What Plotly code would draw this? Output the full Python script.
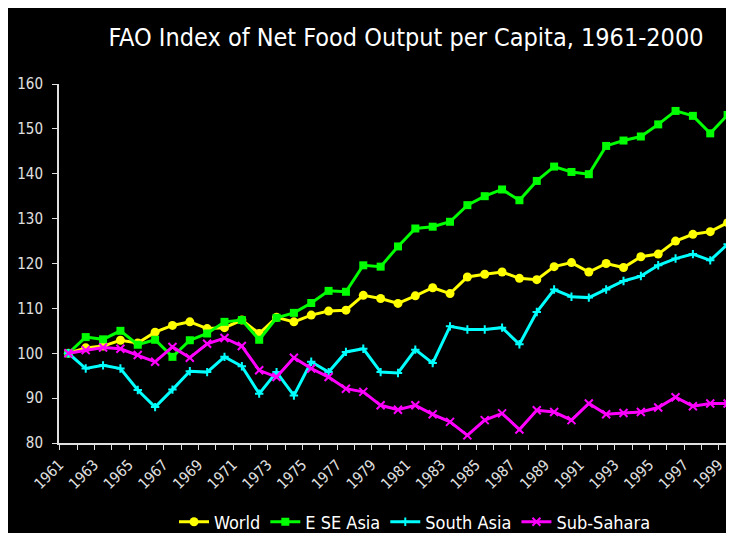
import plotly.graph_objects as go

years = list(range(1961, 2001))

world = [100.0, 101.2, 101.6, 102.9, 102.3, 104.7, 106.2, 107.0, 105.5, 105.7,
         107.4, 104.4, 108.0, 107.0, 108.5, 109.4, 109.6, 112.9, 112.2, 111.1,
         112.8, 114.6, 113.3, 117.0, 117.6, 118.1, 116.7, 116.4, 119.3, 120.2,
         118.1, 120.0, 119.1, 121.5, 122.1, 125.0, 126.5, 127.1, 129.1, 129.0]

e_se_asia = [100.0, 103.6, 103.1, 105.0, 101.9, 103.0, 99.2, 102.9, 104.4, 107.0,
             107.4, 103.0, 107.9, 109.0, 111.2, 113.9, 113.7, 119.6, 119.3, 123.8,
             127.8, 128.2, 129.3, 133.0, 135.0, 136.5, 134.1, 138.4, 141.6, 140.4,
             139.9, 146.2, 147.4, 148.3, 151.0, 154.0, 152.9, 149.0, 153.1, 152.4]

south_asia = [100.0, 96.6, 97.3, 96.6, 91.8, 88.0, 91.9, 96.0, 95.8, 99.2,
              97.1, 91.0, 95.8, 90.6, 98.1, 95.8, 100.3, 101.0, 95.8, 95.6,
              100.8, 97.8, 106.0, 105.3, 105.3, 105.7, 102.0, 109.2, 114.2, 112.6,
              112.4, 114.2, 116.1, 117.2, 119.6, 121.1, 122.1, 120.7, 124.3, 121.5]

sub_sahara = [100.0, 100.7, 101.3, 101.0, 99.6, 98.1, 101.4, 99.0, 102.1, 103.4,
              101.6, 96.2, 94.7, 99.0, 96.6, 94.7, 92.1, 91.4, 88.4, 87.4,
              88.4, 86.4, 84.7, 81.7, 85.1, 86.6, 83.0, 87.3, 86.9, 85.1,
              88.8, 86.4, 86.7, 86.9, 87.9, 90.2, 88.2, 88.8, 88.8, 87.0]

tick_years = list(range(1961, 2000, 2))
tick_text = [str(y) for y in tick_years]

FONT = "DejaVu Sans Condensed, Liberation Sans Narrow, sans-serif"

W, H = 734, 533
L, R, T, B = 51, 0, 76, 98
pw, ph = W - L - R, H - T - B

fig = go.Figure()

series = [
    ("World", world, "#ffff00", dict(symbol="circle", size=9)),
    ("E SE Asia", e_se_asia, "#00ff00", dict(symbol="square", size=8)),
    ("South Asia", south_asia, "#00ffff", dict(symbol="cross-thin-open", size=6,
                                                line=dict(width=2, color="#00ffff"))),
    ("Sub-Sahara", sub_sahara, "#ff00ff", dict(symbol="x-thin-open", size=8,
                                                line=dict(width=2, color="#ff00ff"))),
]
for name, vals, col, mk in series:
    m = dict(color=col, **mk)
    fig.add_trace(go.Scatter(x=years, y=vals, name=name, mode="lines+markers",
                             line=dict(color=col, width=3), marker=m))


def px_x(p):
    return (p - L) / pw


def px_y(p):
    return (H - B - p) / ph


fig.update_layout(
    width=W, height=H,
    margin=dict(l=L, r=R, t=T, b=B),
    paper_bgcolor="black", plot_bgcolor="black",
    title=dict(text="FAO Index of Net Food Output per Capita, 1961-2000",
               x=398 / W, xanchor="center", y=1 - 29 / H, yanchor="middle",
               font=dict(family=FONT, size=25, color="white")),
    showlegend=True,
    legend=dict(orientation="h", x=px_x(407), xanchor="center",
                y=px_y(514), yanchor="middle",
                font=dict(family=FONT, size=18, color="white"),
                bgcolor="rgba(0,0,0,0)", itemwidth=30, tracegroupgap=0),
    xaxis=dict(range=[1960.46, 1999.83], tickmode="array", tickvals=tick_years,
               ticktext=tick_text, tickangle=-45, ticks="", showgrid=False,
               zeroline=False, showline=True, linecolor="#e0e0e0", linewidth=2,
               tickfont=dict(family=FONT, size=15, color="#e0e0e0"),
               automargin=False, ticklabelstandoff=5, ticklabelshift=-9,
               minor=dict(tick0=1960.5, dtick=1, ticks="outside", ticklen=5,
                          tickcolor="#e0e0e0", tickwidth=1, showgrid=False)),
    yaxis=dict(range=[80, 160], dtick=10, ticks="outside", ticklen=5,
               tickcolor="#e0e0e0", showgrid=False, zeroline=False, showline=True,
               linecolor="#e0e0e0", linewidth=2, automargin=False,
               tickfont=dict(family=FONT, size=15, color="#e0e0e0"),
               ticklabelstandoff=6),
)

fig.write_html("out.html")
